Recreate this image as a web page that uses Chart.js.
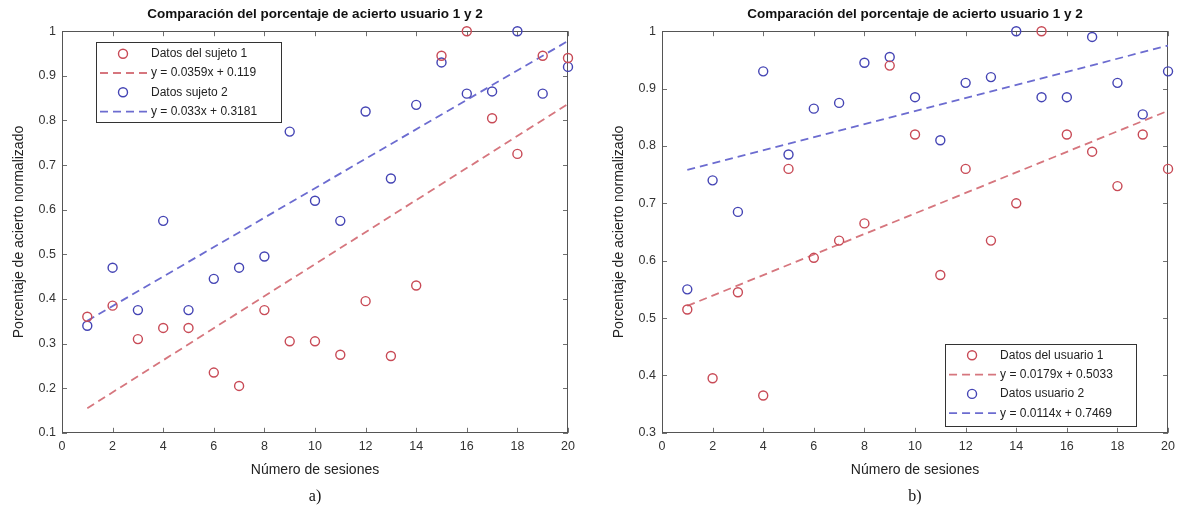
<!DOCTYPE html>
<html>
<head>
<meta charset="utf-8">
<title>Comparación del porcentaje de acierto</title>
<script src="https://cdn.jsdelivr.net/npm/chart.js@4.4.1/dist/chart.umd.min.js"></script>
<style>
  body { margin: 0; background: #fff; width: 1181px; height: 512px; overflow: hidden; position: relative; }
  canvas { position: absolute; top: 0; }
</style>
</head>
<body>
<canvas id="chartA" width="600" height="512" style="left:0"></canvas>
<canvas id="chartB" width="581" height="512" style="left:600px"></canvas>
<script>
// datos
const sesiones = [1, 2, 3, 4, 5, 6, 7, 8, 9, 10, 11, 12, 13, 14, 15, 16, 17, 18, 19, 20];

// a) sujetos
const sujeto1 = [0.36, 0.385, 0.31, 0.335, 0.335, 0.235, 0.205, 0.375, 0.305, 0.305,
                 0.275, 0.395, 0.272, 0.43, 0.945, 1.0, 0.805, 0.725, 0.945, 0.94];
const sujeto2 = [0.34, 0.47, 0.375, 0.575, 0.375, 0.445, 0.47, 0.495, 0.775, 0.62,
                 0.575, 0.82, 0.67, 0.835, 0.93, 0.86, 0.865, 1.0, 0.86, 0.92];
const ajusteSujeto1 = [0.0359, 0.119];   // pendiente, ordenada
const ajusteSujeto2 = [0.033, 0.3181];

// b) usuarios
const usuario1 = [0.515, 0.395, 0.545, 0.365, 0.76, 0.605, 0.635, 0.665, 0.94, 0.82,
                  0.575, 0.76, 0.635, 0.70, 1.0, 0.82, 0.79, 0.73, 0.82, 0.76];
const usuario2 = [0.55, 0.74, 0.685, 0.93, 0.785, 0.865, 0.875, 0.945, 0.955, 0.885,
                  0.81, 0.91, 0.92, 1.0, 0.885, 0.885, 0.99, 0.91, 0.855, 0.93];
const ajusteUsuario1 = [0.0179, 0.5033];
const ajusteUsuario2 = [0.0114, 0.7469];

const ticksX = [0, 20, 2];       // min, max, paso
const ticksYa = [0.1, 1, 0.1];
const ticksYb = [0.3, 1, 0.1];

const ROJO = '#c84a56', AZUL = '#4444b4';
const ROJO_LINEA = '#d6767e', AZUL_LINEA = '#6c6cd0';
const FUENTE = '"Liberation Sans", Arial, sans-serif';

const puntos = (ys) => ys.map((v, i) => ({ x: sesiones[i], y: v }));
const recta = (c) => [sesiones[0], sesiones[sesiones.length - 1]].map(x => ({ x: x, y: c[0] * x + c[1] }));
const fmt = (c) => 'y = ' + c[0] + 'x + ' + c[1];

function serieDatos(label, ys, color) {
    return { type: 'scatter', label: label, data: puntos(ys), borderColor: color, backgroundColor: 'rgba(0,0,0,0)',
             pointStyle: 'circle', pointRadius: 4.5, pointBorderWidth: 1.4, clip: false };
}
function serieAjuste(c, color) {
    return { type: 'line', label: fmt(c), data: recta(c), borderColor: color, borderWidth: 1.8,
             borderDash: [8, 5], pointRadius: 0, fill: false, tension: 0 };
}

// marco y marcas hacia dentro, estilo MATLAB
const marco = {
    id: 'marco',
    beforeDatasetsDraw(chart) {
        const { ctx, chartArea: a, scales: { x, y } } = chart;
        ctx.save();
        ctx.strokeStyle = '#707070';
        ctx.lineWidth = 1;
        ctx.beginPath();
        x.ticks.forEach(t => {
            const px = Math.round(x.getPixelForValue(t.value)) + 0.5;
            ctx.moveTo(px, a.bottom); ctx.lineTo(px, a.bottom - 5);
            ctx.moveTo(px, a.top); ctx.lineTo(px, a.top + 5);
        });
        y.ticks.forEach(t => {
            const py = Math.round(y.getPixelForValue(t.value)) + 0.5;
            ctx.moveTo(a.left, py); ctx.lineTo(a.left + 5, py);
            ctx.moveTo(a.right, py); ctx.lineTo(a.right - 5, py);
        });
        ctx.stroke();
        ctx.strokeStyle = '#555';
        ctx.strokeRect(Math.round(a.left) + 0.5, Math.round(a.top) + 0.5, Math.round(a.width) - 1, Math.round(a.height) - 1);
        ctx.restore();
    }
};

// leyenda dentro del area de trazado
const leyenda = {
    id: 'leyenda',
    afterDraw(chart, args, opts) {
        const { ctx, chartArea: a } = chart;
        const w = opts.w, h = opts.h;
        const x0 = opts.corner === 'tl' ? a.left + opts.dx : a.right - opts.dx - w;
        const y0 = opts.corner === 'tl' ? a.top + opts.dy : a.bottom - opts.dy - h;
        ctx.save();
        ctx.fillStyle = '#fff';
        ctx.fillRect(x0, y0, w, h);
        ctx.strokeStyle = '#333';
        ctx.lineWidth = 1;
        ctx.strokeRect(Math.round(x0) + 0.5, Math.round(y0) + 0.5, w, h);
        ctx.font = '12px ' + FUENTE;
        ctx.textBaseline = 'middle';
        chart.data.datasets.forEach((ds, i) => {
            const cy = y0 + 11.5 + i * 19.3;
            if (ds.type === 'scatter') {
                ctx.strokeStyle = ds.borderColor;
                ctx.lineWidth = 1.4;
                ctx.beginPath();
                ctx.arc(x0 + 27, cy, 4.5, 0, Math.PI * 2);
                ctx.stroke();
            } else {
                ctx.strokeStyle = ds.borderColor;
                ctx.lineWidth = 1.8;
                ctx.setLineDash([8, 5]);
                ctx.beginPath();
                ctx.moveTo(x0 + 4, cy); ctx.lineTo(x0 + 53, cy);
                ctx.stroke();
                ctx.setLineDash([]);
            }
            ctx.fillStyle = '#222';
            ctx.fillText(ds.label, x0 + 55, cy);
        });
        ctx.restore();
    }
};

function opciones(rangoY, subtitulo, padRight, ley) {
    return {
        responsive: false,
        animation: false,
        layout: { padding: { left: 0, right: padRight, top: 0, bottom: 0 } },
        plugins: {
            legend: { display: false },
            tooltip: { enabled: false },
            title: { display: true, fullSize: false, text: 'Comparación del porcentaje de acierto usuario 1 y 2',
                     color: '#111', font: { family: FUENTE, size: 13.5, weight: 'bold' }, padding: { top: 6, bottom: 9 } },
            subtitle: { display: true, position: 'bottom', fullSize: false, text: subtitulo, color: '#111',
                        font: { family: '"Liberation Serif", "Times New Roman", serif', size: 16 }, padding: { top: 3, bottom: 6 } },
            leyenda: ley
        },
        scales: {
            x: {
                type: 'linear', min: ticksX[0], max: ticksX[1],
                afterFit: s => { s.height = 51; },
                grid: { display: false, drawTicks: false }, border: { display: false },
                ticks: { stepSize: ticksX[2], padding: 6, color: '#333', font: { family: FUENTE, size: 12.5 } },
                title: { display: true, text: 'Número de sesiones', color: '#222',
                         font: { family: FUENTE, size: 14 }, padding: { top: 0, bottom: 5 } }
            },
            y: {
                type: 'linear', min: rangoY[0], max: rangoY[1],
                afterFit: s => { s.width = 62; },
                grid: { display: false, drawTicks: false }, border: { display: false },
                ticks: { stepSize: rangoY[2], padding: 6, color: '#333', font: { family: FUENTE, size: 12.5 },
                         callback: v => String(Math.round(v * 10) / 10) },
                title: { display: true, text: 'Porcentaje de acierto normalizado', color: '#222',
                         font: { family: FUENTE, size: 14 }, padding: { top: 11, bottom: 0 } }
            }
        }
    };
}

new Chart(document.getElementById('chartA'), {
    data: { datasets: [
        serieDatos('Datos del sujeto 1', sujeto1, ROJO),
        serieAjuste(ajusteSujeto1, ROJO_LINEA),
        serieDatos('Datos sujeto 2', sujeto2, AZUL),
        serieAjuste(ajusteSujeto2, AZUL_LINEA)
    ] },
    options: opciones(ticksYa, 'a)', 32, { corner: 'tl', dx: 34, dy: 11, w: 185, h: 80 }),
    plugins: [marco, leyenda]
});

new Chart(document.getElementById('chartB'), {
    data: { datasets: [
        serieDatos('Datos del usuario 1', usuario1, ROJO),
        serieAjuste(ajusteUsuario1, ROJO_LINEA),
        serieDatos('Datos usuario 2', usuario2, AZUL),
        serieAjuste(ajusteUsuario2, AZUL_LINEA)
    ] },
    options: opciones(ticksYb, 'b)', 12, { corner: 'br', dx: 32, dy: 7, w: 191, h: 82 }),
    plugins: [marco, leyenda]
});
</script>
</body>
</html>
